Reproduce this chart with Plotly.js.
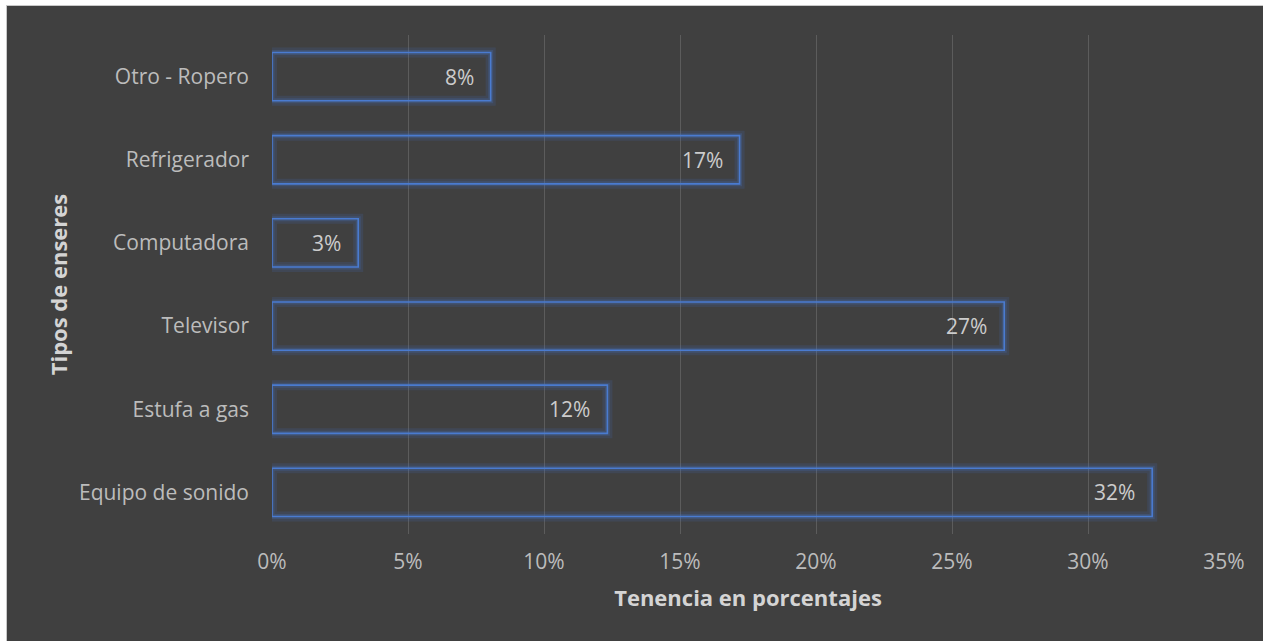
<!DOCTYPE html>
<html>
<head>
<meta charset="utf-8">
<script src="https://cdn.plot.ly/plotly-3.0.1.min.js"></script>
<style>
html,body{margin:0;padding:0;background:#ffffff;width:1263px;height:641px;overflow:hidden;}
#wrap{position:absolute;left:6px;top:5px;width:1257px;height:636px;border-left:1px solid #c8c8c8;border-top:1px solid #c8c8c8;background:#404040;}
#chart{width:1256px;height:635px;}
</style>
</head>
<body>
<div id="wrap"><div id="chart"></div></div>
<script>
var categories = ["Equipo de sonido", "Estufa a gas", "Televisor", "Computadora", "Refrigerador", "Otro - Ropero"];
var values = [32.36, 12.33, 26.92, 3.17, 17.19, 8.04];
var xTickVals = [0, 5, 10, 15, 20, 25, 30, 35];
var xTickText = ["0%", "5%", "10%", "15%", "20%", "25%", "30%", "35%"];

var font = "Open Sans, Noto Sans, sans-serif";

var glow = {
  type: "bar", orientation: "h", y: categories, x: values,
  width: 0.58,
  marker: {color: "rgba(0,0,0,0)", line: {color: "rgba(68,114,196,0.16)", width: 10}},
  hoverinfo: "skip", showlegend: false
};
var glow2 = {
  type: "bar", orientation: "h", y: categories, x: values,
  width: 0.58,
  marker: {color: "rgba(0,0,0,0)", line: {color: "rgba(68,114,196,0.25)", width: 5}},
  hoverinfo: "skip", showlegend: false
};
var main = {
  type: "bar", orientation: "h", y: categories, x: values,
  width: 0.58,
  marker: {color: "rgba(0,0,0,0)", line: {color: "#4a7bd0", width: 1.6}},
  showlegend: false
};

var annotations = categories.map(function(c, i){
  return {x: values[i], y: c, xref: "x", yref: "y", text: Math.round(values[i]) + "%",
    showarrow: false, xanchor: "right", xshift: -15,
    font: {family: font, size: 21, color: "#cccccc"}};
});

var layout = {
  width: 1256, height: 635,
  paper_bgcolor: "#404040", plot_bgcolor: "#404040",
  margin: {l: 265, r: 39, t: 29, b: 107},
  barmode: "overlay",
  font: {family: font, color: "#bfbfbf"},
  xaxis: {
    range: [0, 35], tickvals: xTickVals, ticktext: xTickText,
    showgrid: true, gridcolor: "#5c5c5c", gridwidth: 1, zeroline: false,
    showline: false, ticks: "", ticklabelstandoff: 13,
    tickfont: {family: font, size: 21, color: "#bcbcbc"},
    title: {text: "<b>Tenencia en porcentajes</b>", font: {family: font, size: 22, color: "#d4d4d4"}, standoff: 16},
    fixedrange: true
  },
  yaxis: {
    categoryorder: "array", categoryarray: categories,
    showgrid: false, zeroline: false, showline: false, ticks: "",
    ticklabelstandoff: 22,
    tickfont: {family: font, size: 21, color: "#bcbcbc"},
    title: {text: "<b>Tipos de enseres</b>", font: {family: font, size: 22, color: "#d4d4d4"}, standoff: 5},
    fixedrange: true
  },
  annotations: annotations
};

Plotly.newPlot("chart", [glow, glow2, main], layout, {displayModeBar: false, staticPlot: true});
</script>
</body>
</html>
